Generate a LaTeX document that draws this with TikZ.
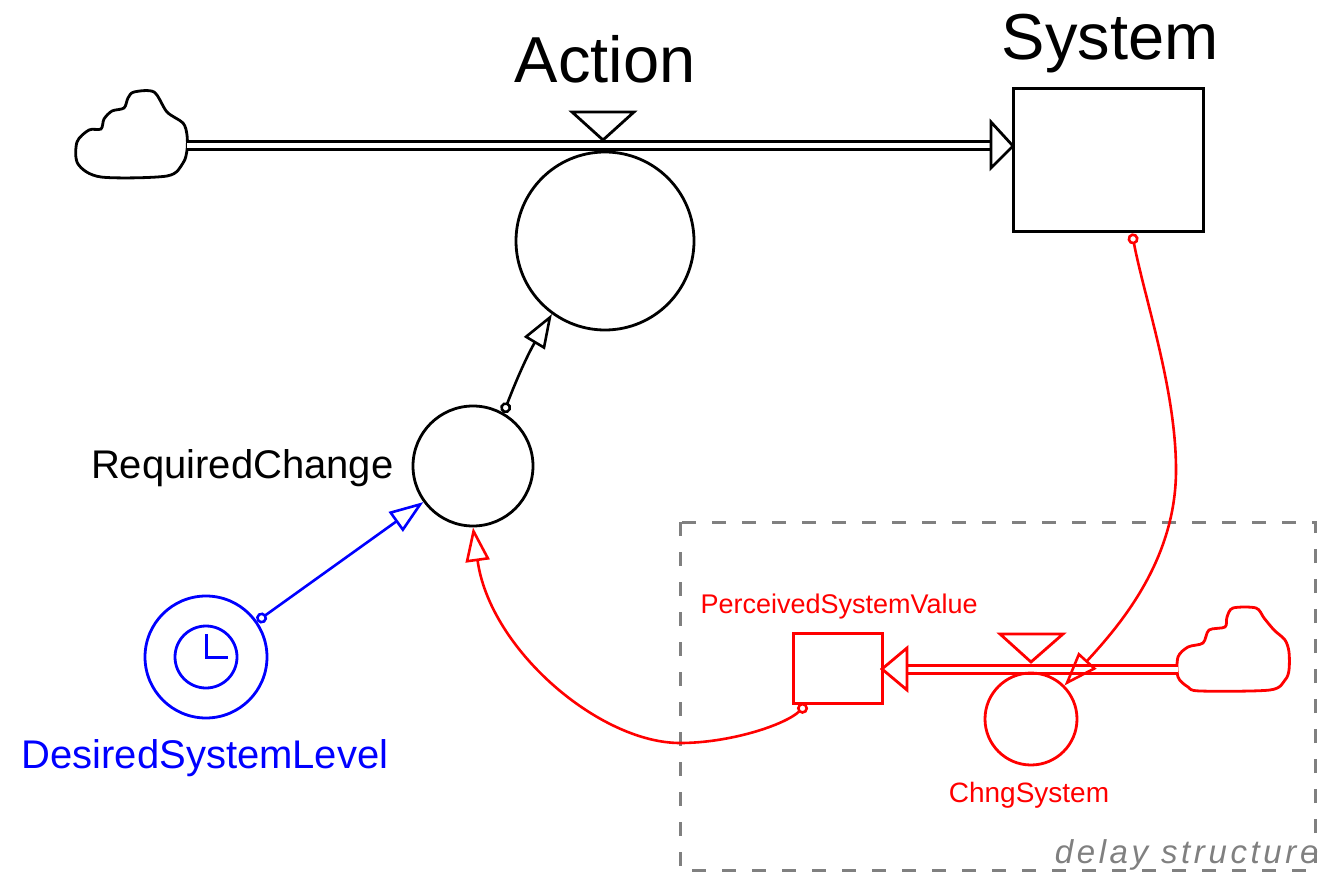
\documentclass[tikz,border=0pt]{standalone}
\usepackage{fontspec}
\setmainfont{Liberation Sans}
\newfontfamily\delayfont[LetterSpace=11]{Liberation Sans}
\usetikzlibrary{arrows.meta}

\definecolor{simred}{RGB}{255,0,0}
\definecolor{simblue}{RGB}{0,0,255}
\definecolor{simgray}{RGB}{128,128,128}

\begin{document}
\begin{tikzpicture}[x=1pt,y=-1pt,
	auxnode/.style={draw, circle, line width=2.8pt, inner sep=0pt},
	stocknode/.style={draw, rectangle, line width=3pt, inner sep=0pt},
	pipeline/.style={line width=3pt, double distance=5pt},
	valve/.style={line width=2.8pt},
	infolink/.style={line width=2.6pt, {Circle[open,length=11pt,width=11pt]}-{Triangle[open,length=34pt,width=24pt]}}]
	\useasboundingbox (0,0) rectangle (1325,874);

	% stock and its inflow
	\draw[line width=2.8pt] plot[smooth cycle, tension=0.5] coordinates {(134,92) (154,92) (167,112) (183,123) (187,135) (187,150) (183,163) (167,176) (101,177) (78,164) (77,142) (89,130) (101,129) (104,119) (112,111) (124,108) (128,98)};
	\coordinate (cloudL) at (187,146);
	\coordinate (sysin) at (991,146);
	\node[stocknode, minimum width=190pt, minimum height=143pt] (system) at (1108,160.5) {};
	\node[anchor=base, font=\fontsize{65}{70}\selectfont] (systemlabel) at (1110,60) {System};
	\draw[pipeline] (cloudL) -- (sysin);
	\draw[valve, fill=white] (991,122) -- (1013,146) -- (991,168) -- cycle;
	\draw[valve] (572,112) -- (634,112) -- (603,140) -- cycle;
	\node[auxnode, minimum size=178pt] (action) at (605,241) {};
	\node[anchor=base, font=\fontsize{65}{70}\selectfont] (actionlabel) at (605,83) {Action};

	\node[auxnode, minimum size=120pt] (req) at (473,466) {};
	\node[anchor=base east, font=\fontsize{40}{44}\selectfont] (reqlabel) at (397,478) {RequiredChange};

	% goal
	\node[auxnode, draw=simblue, minimum size=122pt] (desired) at (206,657) {};
	\node[auxnode, draw=simblue, minimum size=62pt] (clock) at (desired) {};
	\draw[simblue, line width=3pt] (206,634) -- (206,657) -- (228,657);
	\node[anchor=base, text=simblue, font=\fontsize{40}{44}\selectfont] (desiredlabel) at (205,768) {DesiredSystemLevel};

	% delay
	\draw[simgray, line width=3pt, dash pattern=on 14pt off 16pt] (680,522) rectangle (1315,870);
	\node[anchor=base east, text=simgray, font={\delayfont\itshape\fontsize{33}{36}\selectfont}] (delaylabel) at (1322,863) {delay structure};

	\node[stocknode, draw=simred, minimum width=89pt, minimum height=70pt] (perceived) at (837.5,668) {};
	\node[anchor=base west, text=simred, font=\fontsize{27}{30}\selectfont] (perceivedlabel) at (697,613) {PerceivedSystemValue};
	\draw[simred, line width=2.8pt] plot[smooth cycle, tension=0.5] coordinates {(1233,608) (1256,608) (1264,618) (1274,630) (1285,640) (1289,652) (1289,670) (1285,680) (1270,690) (1200,691) (1188,687) (1178,677) (1178,657) (1188,647) (1203,643) (1209,630) (1225,627) (1227,617)};
	\coordinate (cloudR) at (1178,669);
	\coordinate (perceivedin) at (907,669);
	\draw[pipeline, simred] (cloudR) -- (perceivedin);
	\draw[valve, simred, fill=white] (907,648) -- (882,669) -- (907,690) -- cycle;
	\draw[valve, simred] (1000,634) -- (1063,634) -- (1031,662) -- cycle;
	\node[auxnode, draw=simred, minimum size=92pt] (chng) at (1031,719) {};
	\node[anchor=base, text=simred, font=\fontsize{28}{30}\selectfont] (chnglabel) at (1029,802) {ChngSystem};

	% links
	\draw[infolink] (req.60) to[bend left=5] (action.234);
	\draw[infolink, simblue] (desired.35) -- (req.216);
	\draw[infolink, simred] ([xshift=24pt]system.south) .. controls (1145,300) and (1176,390) .. (1176,470) .. controls (1176,560) and (1120,625) .. (chng.north east);
	\draw[infolink, simred] ([xshift=15pt]perceived.south west) .. controls (785,725) and (730,743) .. (680,743) .. controls (600,743) and (490,650) .. (req.south);
\end{tikzpicture}
\end{document}
